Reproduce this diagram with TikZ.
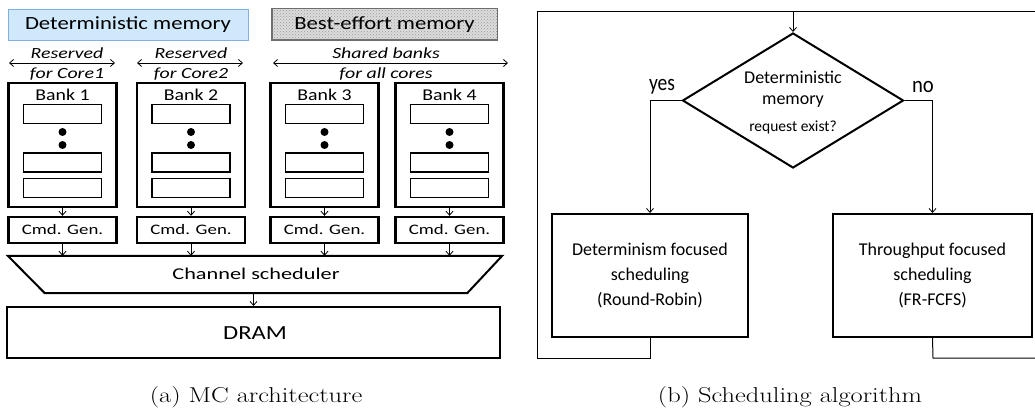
\documentclass[tikz,border=0pt]{standalone}
\usepackage{fontspec}
\newfontfamily\calfont{Carlito}
\usetikzlibrary{arrows.meta,shapes.geometric,patterns}
\definecolor{detfill}{HTML}{CFE8FB}
\definecolor{detdraw}{HTML}{7FB0E0}
\definecolor{befill}{HTML}{DCDCDC}
\definecolor{bedraw}{HTML}{6E6E6E}
\begin{document}
\begin{tikzpicture}[x=1pt,y=-1pt,
  txt/.style={font=\calfont\fontsize{#1}{#1}\selectfont, inner sep=0pt},
  txt/.default=16,
  ital/.style={font=\calfont\itshape\fontsize{15.5}{15.5}\selectfont, inner sep=0pt, xscale=1.28},
  hdr/.style={draw, line width=1pt, minimum height=31, inner sep=0pt},
  hdrtext/.style={font=\calfont\fontsize{18.6}{18.6}\selectfont, inner sep=0pt, xscale=1.22},
  bankbox/.style={draw, line width=2.4pt, minimum width=108, minimum height=124, inner sep=0pt},
  slot/.style={draw, line width=1.1pt, minimum width=78, minimum height=19, inner sep=0pt},
  cmdbox/.style={draw, line width=2.4pt, minimum width=108, minimum height=26, inner sep=0pt},
  cmdtext/.style={font=\calfont\fontsize{14.5}{14.5}\selectfont, inner sep=0pt, xscale=1.3},
  dotc/.style={fill=black, circle, minimum size=8, inner sep=0pt},
  tip/.style={-{Straight Barb[length=4pt,width=7pt]}, line width=0.8pt},
  dtip/.style={{Straight Barb[length=4pt,width=7pt]}-{Straight Barb[length=4pt,width=7pt]}, line width=0.8pt},
  flowbox/.style={draw, line width=2pt, minimum height=123, inner sep=0pt, align=center, font=\calfont\fontsize{18}{25}\selectfont},
  flowline/.style={line width=1pt},
  captext/.style={font=\fontsize{21.5}{21.5}\selectfont, inner sep=0pt, xscale=1.23}
]
\useasboundingbox (0,0) rectangle (1035,411);

% ---------- (a) MC architecture ----------
\node[hdr, fill=detfill, draw=detdraw, minimum width=240] (det) at (128,25) {};
\node[hdrtext] (dett) at (128,25) {Deterministic memory};
\node[hdr, fill=befill, draw=bedraw, minimum width=225] (be) at (384.5,24.5) {};
\fill[pattern=crosshatch dots, pattern color=gray!80] (be.north west) rectangle (be.south east);
\draw[bedraw, line width=1pt] (be.north west) rectangle (be.south east);
\node[hdrtext] (bet) at (384.5,24.5) {Best-effort memory};

\node[ital] (r1a) at (67,53) {Reserved};
\node[ital] (r1b) at (67,74) {for Core1};
\coordinate (a1l) at (9,63); \coordinate (a1r) at (115,63);
\draw[dtip] (a1l) -- (a1r);
\node[ital] (r2a) at (191,53) {Reserved};
\node[ital] (r2b) at (191,74) {for Core2};
\coordinate (a2l) at (137,63); \coordinate (a2r) at (243,63);
\draw[dtip] (a2l) -- (a2r);
\node[ital] (r3a) at (386,53) {Shared banks};
\node[ital] (r3b) at (386,74) {for all cores};
\coordinate (a3l) at (273,63); \coordinate (a3r) at (508,63);
\draw[dtip] (a3l) -- (a3r);

% channel scheduler (inverted trapezium)
\node[minimum width=494, minimum height=37, inner sep=0pt] (chs) at (255,274.5) {};
\draw[line width=2pt] (chs.north west) -- (chs.north east) -- ([xshift=-35pt]chs.south east) -- ([xshift=37pt]chs.south west) -- cycle;
\node[txt=16.5, xscale=1.35] (chst) at (256,274) {Channel scheduler};

\foreach \i/\cx in {1/62.5, 2/191, 3/324.5, 4/449.5}{
  \node[bankbox] (bank\i) at (\cx,145) {};
  \node[txt=16.5, xscale=1.2] (bl\i) at (\cx,95) {Bank \i};
  \node[slot] (sa\i) at (\cx,114) {};
  \node[dotc] (da\i) at (\cx,132) {};
  \node[dotc] (db\i) at (\cx,145) {};
  \node[slot] (sb\i) at (\cx,162.5) {};
  \node[slot] (sc\i) at (\cx,188) {};
  \node[cmdbox] (cmd\i) at (\cx,230) {};
  \node[cmdtext] (ct\i) at (\cx,230) {Cmd. Gen.};
  \draw[tip] (bank\i.south) -- (cmd\i.north);
  \draw[tip] (cmd\i.south) -- (cmd\i.south |- chs.north);
}

\node[draw, line width=2pt, minimum width=493, minimum height=51, inner sep=0pt] (dram) at (253.5,332.5) {};
\node[txt=20, xscale=1.23] (dramt) at (255,333.5) {DRAM};
\draw[tip] (dram.north |- chs.south) -- (dram.north);

\node[captext] (capa) at (256,397.5) {(a) MC architecture};

% ---------- (b) Scheduling algorithm ----------
\node[diamond, draw, line width=2pt, minimum width=221, minimum height=135, inner sep=0pt] (dec) at (793,100.5) {};
\node[txt=18] (dt1) at (793,77) {Deterministic};
\node[txt=18] (dt2) at (793,102) {memory};
\node[txt=15.5] (dt3) at (793,127) {request exist?};
\node[txt=23, xscale=0.85] (yes) at (662,87) {yes};
\node[txt=23, xscale=0.9] (no) at (923,87) {no};

\node[flowbox, minimum width=196] (lb) at (650,275.5) {Determinism focused\\scheduling\\(Round-Robin)};
\node[flowbox, minimum width=199] (rb) at (932.5,275.5) {Throughput focused\\scheduling\\(FR-FCFS)};

\draw[tip] (dec.west) -| (lb.north);
\draw[tip] (dec.east) -| (rb.north);

\coordinate (tl) at (537,12);
\coordinate (tr) at (1038,12);
\coordinate (lbot) at (650,358);
\coordinate (rbot) at (933,358);
\coordinate (br) at (1038,358);
\draw[flowline] (lb.south) -- (lbot) -| (tl) -- (tr);
\draw[flowline] (rb.south) -- (rbot) -- (br) -- (tr);
\draw[tip] (dec.north |- tl) -- (dec.north);

\node[captext] (capb) at (790,397.5) {(b) Scheduling algorithm};
\end{tikzpicture}
\end{document}
